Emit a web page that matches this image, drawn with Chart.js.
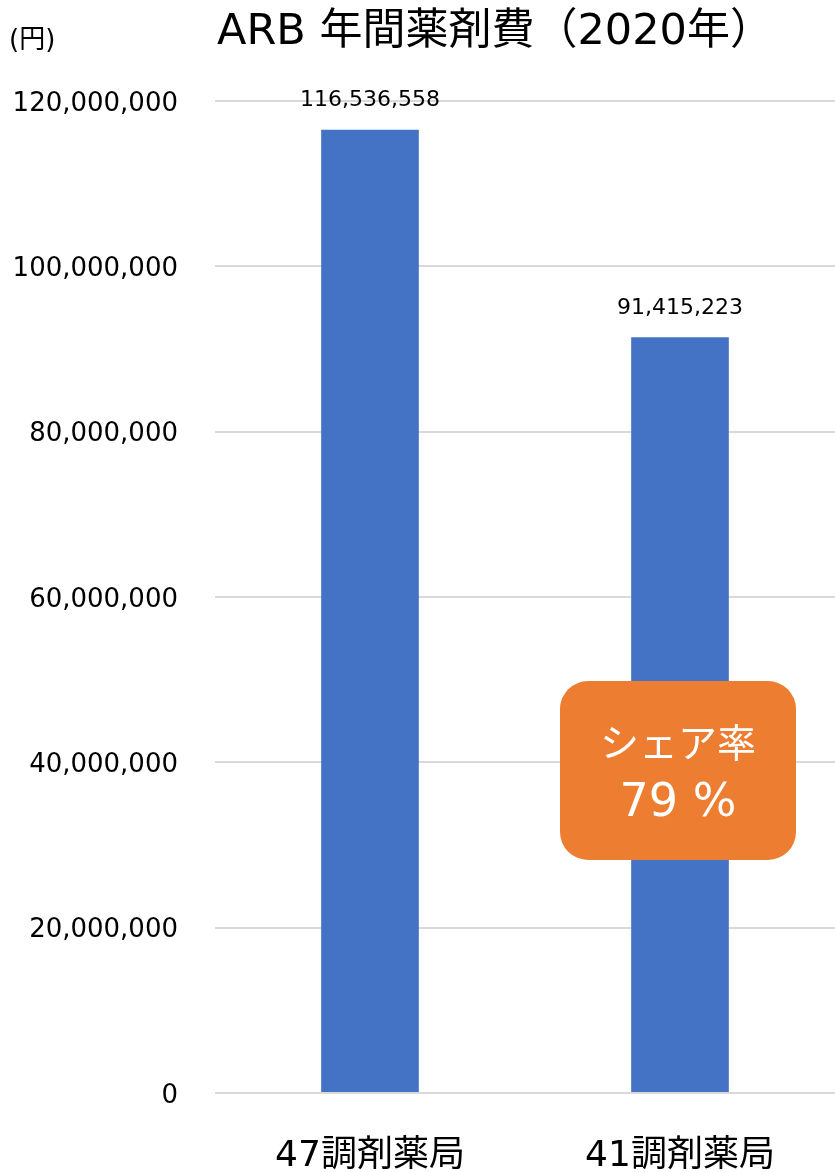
<!DOCTYPE html>
<html><head><meta charset="utf-8">
<script src="https://cdn.jsdelivr.net/npm/chart.js@4.4.1/dist/chart.umd.min.js"></script>
<style>html,body{margin:0;padding:0;background:#fff}#wrap{width:835px;height:1172px;position:relative}</style>
</head><body><div id="wrap"><canvas id="c"></canvas></div>
<script>
const categories = ['47調剤薬局', '41調剤薬局'];
const costValues = [116536558, 91415223];
const yTicks = [0, 20000000, 40000000, 60000000, 80000000, 100000000, 120000000];
const titleText = 'ARB 年間薬剤費（2020年）';
const unitText = '(円)';
const shareLines = ['シェア率', '79 %'];

const FONT = '"DejaVu Sans", "Noto Sans CJK JP", sans-serif';

const overlay = {
  id: 'overlay',
  afterDatasetsDraw(chart) {
    const ctx = chart.ctx;
    ctx.save();
    const meta = chart.getDatasetMeta(0);
    ctx.fillStyle = '#000';
    ctx.font = '22px ' + FONT;
    ctx.textAlign = 'center';
    ctx.textBaseline = 'bottom';
    meta.data.forEach((el, i) => {
      ctx.fillText(costValues[i].toLocaleString('en-US'), el.x, el.y - 18);
    });
    ctx.font = '43px ' + FONT;
    ctx.textAlign = 'left';
    ctx.textBaseline = 'middle';
    ctx.fillText(titleText, 217, 33);
    ctx.font = '26px ' + FONT;
    ctx.fillText(unitText, 9, 41);
    const x = 560, y = 681, w = 236, h = 179, r = 28;
    ctx.fillStyle = '#ED7D31';
    ctx.beginPath();
    ctx.roundRect(x, y, w, h, r);
    ctx.fill();
    ctx.fillStyle = '#fff';
    ctx.textAlign = 'center';
    ctx.font = '39px ' + FONT;
    ctx.fillText(shareLines[0], x + w / 2, 747);
    ctx.font = '46px ' + FONT;
    ctx.fillText(shareLines[1], x + w / 2, 804);
    ctx.restore();
  }
};

new Chart(document.getElementById('c'), {
  type: 'bar',
  data: {
    labels: categories,
    datasets: [{
      data: costValues,
      backgroundColor: '#4472C4',
      barPercentage: 0.315,
      categoryPercentage: 1.0
    }]
  },
  options: {
    responsive: true,
    maintainAspectRatio: false,
    animation: false,
    layout: { padding: { top: 101, right: 0, left: 0, bottom: 0 } },
    plugins: { legend: { display: false }, tooltip: { enabled: false }, title: { display: false } },
    scales: {
      x: {
        grid: { display: false, drawTicks: false },
        border: { display: false },
        ticks: { color: '#000', font: { family: FONT, size: 36 }, padding: 42 },
        afterFit(s) { s.height = 79; }
      },
      y: {
        min: 0, max: 120000000,
        afterBuildTicks(s) { s.ticks = yTicks.map(v => ({ value: v })); },
        grid: { color: '#d9d9d9', lineWidth: 2, drawTicks: false },
        border: { display: false },
        ticks: {
          color: '#000', font: { family: FONT, size: 26 }, padding: 37,
          labelOffset: 3,
          callback: v => v.toLocaleString('en-US')
        },
        afterFit(s) { s.width = 215; }
      }
    }
  },
  plugins: [overlay]
});
</script></body></html>
